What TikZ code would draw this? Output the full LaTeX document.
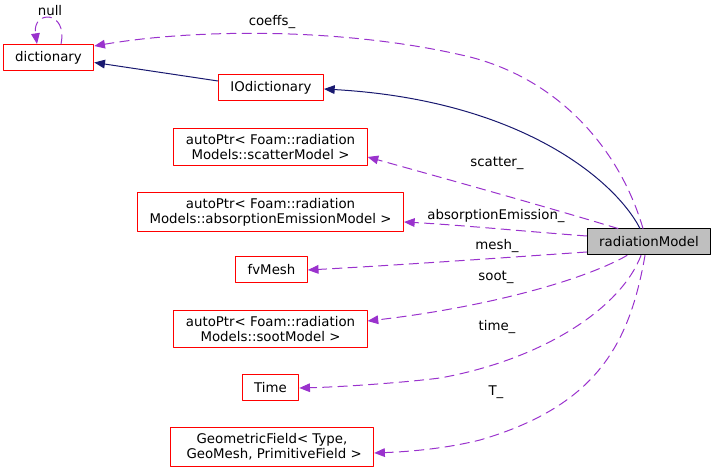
\documentclass[tikz,border=0pt]{standalone}
\usepackage{fontspec}
\setmainfont{DejaVu Sans}
\usepackage{tikz}
\usetikzlibrary{arrows.meta,calc}

\definecolor{membcol}{HTML}{9A32CD}
\definecolor{inhcol}{HTML}{191970}
\definecolor{boxred}{HTML}{FF0000}
\definecolor{focusgray}{HTML}{BFBFBF}

\begin{document}
\begin{tikzpicture}[
			x=0.75pt, y=-0.75pt,
			line cap=round,
			line join=round,
			font=\fontsize{10}{11}\selectfont,
			cls/.style={draw=boxred, line width=0.75pt, align=center,
				inner xsep=9pt, inner ysep=4.5pt, minimum height=19.5pt},
			focus/.style={cls, draw=black, fill=focusgray},
			inh/.style={draw=inhcol, line width=0.75pt,
				-{Triangle[length=8pt,width=6.5pt]}},
			memb/.style={draw=membcol, line width=0.75pt, dash pattern=on 7pt off 4.5pt,
				-{Triangle[length=8pt,width=6.5pt,fill=membcol]}},
			elabel/.style={inner sep=1pt}
			]
			\useasboundingbox (0,0) rectangle (715,473);
			
			% Classes
			\node[cls]   (dict)   at (48.5,57.5) {dictionary};
			\node[cls]   (iodict) at (271,87.5)  {IOdictionary};
			\node[cls]   (scat)   at (270.5,147) {autoPtr< Foam::radiation\\Models::scatterModel >};
			\node[cls]   (absem)  at (270.5,212) {autoPtr< Foam::radiation\\Models::absorptionEmissionModel >};
			\node[cls]   (mesh)   at (271.5,270) {fvMesh};
			\node[cls]   (soot)   at (270.5,329) {autoPtr< Foam::radiation\\Models::sootModel >};
			\node[cls]   (time)   at (270.5,388) {Time};
			\node[cls]   (geo)    at (272,447)   {GeometricField< Type,\\\ GeoMesh, PrimitiveField >};
			\node[focus] (rm)     at (649,242)   {radiationModel};
			
			% Inheritance
			\draw[inh] ($(rm.north)+(-9,0)$) .. controls (615,180) and (520,100) .. ($(iodict.east)+(0,1.5)$);
			\draw[inh] (iodict.west |- 0,81) -- ($(dict.east)+(0,5)$);
			
			% Members
			\draw[memb] ($(dict.north)+(12.5,0)$) .. controls (68,10) and (32,10) .. ($(dict.north)+(-11.5,0)$);
			\draw[memb] ($(rm.north)+(-6,0)$) .. controls (620,150) and (560,80) .. (470,57)
				.. controls (350,28) and (200,28) .. ($(dict.north east)+(0,2)$);
			\draw[memb] ($(rm.north)+(-31,0)$) .. controls (540,205) and (450,180) .. ($(scat.east)+(0,10)$);
			\draw[memb] ($(rm.west)+(0,-6)$) .. controls (520,231) and (460,225) .. ($(absem.east)+(0,10)$);
			\draw[memb] ($(rm.west)+(0,10)$) .. controls (500,258) and (400,265) .. (mesh.east);
			\draw[memb] ($(rm.south)+(-22,0)$) .. controls (580,282) and (480,308) .. ($(soot.east)+(0,-8)$);
			\draw[memb] ($(rm.south)+(-8,0)$) .. controls (620,310) and (540,360) .. (440,378)
				.. controls (400,383) and (340,387) .. (time.east);
			\draw[memb] ($(rm.south)+(-4,0)$) .. controls (630,340) and (600,405) .. (480,440)
				.. controls (440,450) and (400,452) .. ($(geo.east)+(0,6)$);
			
			% Member names
			\node[elabel] (lnull)    at (50,11)   {null};
			\node[elabel] (lcoeffs)  at (272,22)  {coeffs\_};
			\node[elabel] (lscat)    at (497,163) {scatter\_};
			\node[elabel] (labsem)   at (496,216) {absorptionEmission\_};
			\node[elabel] (lmesh)    at (497,246) {mesh\_};
			\node[elabel] (lsoot)    at (496,277) {soot\_};
			\node[elabel] (ltime)    at (497,327) {time\_};
			\node[elabel] (lT)       at (496,392) {T\_};
		\end{tikzpicture}
\end{document}
